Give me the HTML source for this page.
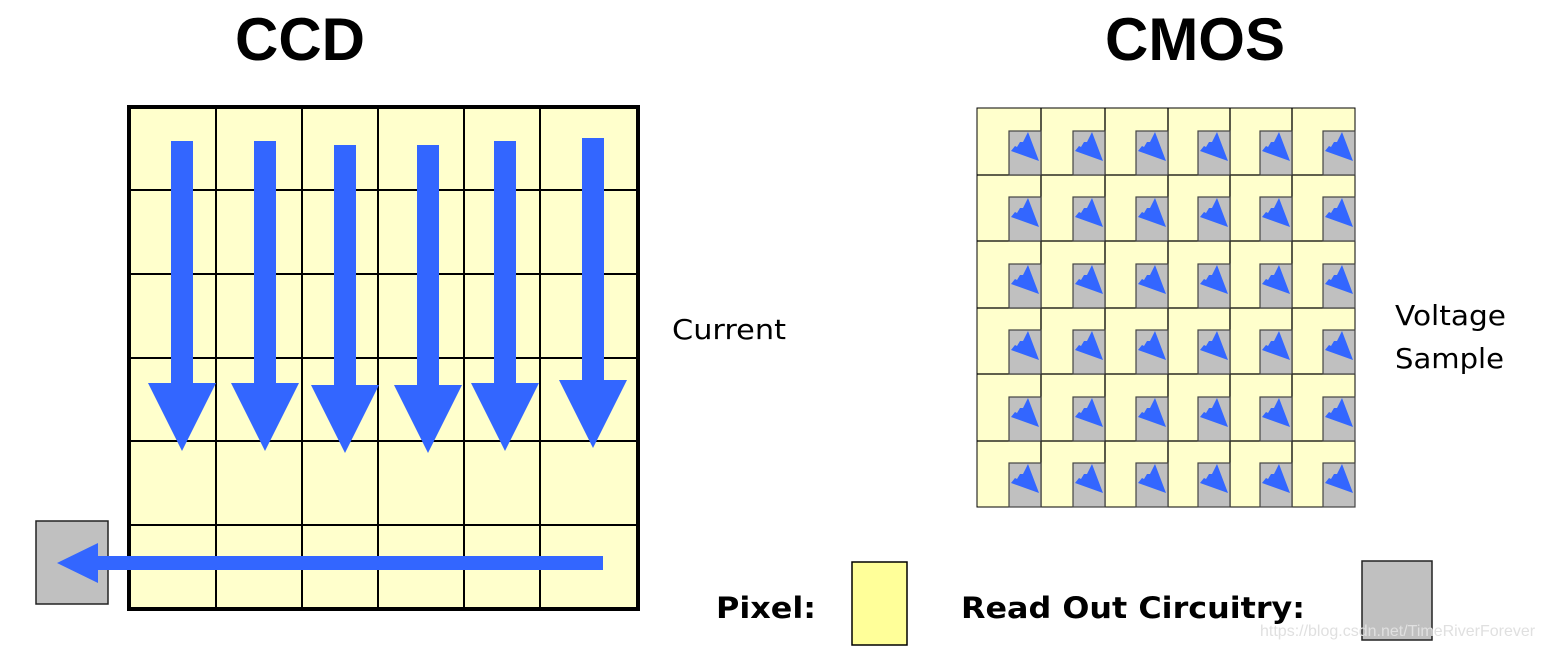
<!DOCTYPE html>
<html><head><style>body{margin:0;background:#fff}svg{display:block}</style></head><body>
<svg width="1544" height="649" xmlns="http://www.w3.org/2000/svg" xmlns:xlink="http://www.w3.org/1999/xlink" font-family="Liberation Sans, sans-serif">
<defs>
<g id="ro">
<rect x="-32" y="-44" width="32" height="44" fill="#c0c0c0" stroke="#444" stroke-width="1.2"/>
<path d="M-30 -24L-26 -29L-24 -28L-21 -33L-18 -33L-13 -43L-2 -14Z" fill="#3366ff"/>
</g>
</defs>
<text x="300" y="60" font-size="60" font-weight="bold" text-anchor="middle">CCD</text>
<text x="1195" y="60" font-size="60" font-weight="bold" text-anchor="middle">CMOS</text>
<rect x="129" y="107" width="509" height="502" fill="#ffffcc"/>
<g stroke="#000" stroke-width="2">
<line x1="216" y1="107" x2="216" y2="609"/><line x1="302" y1="107" x2="302" y2="609"/><line x1="378" y1="107" x2="378" y2="609"/><line x1="464" y1="107" x2="464" y2="609"/><line x1="540" y1="107" x2="540" y2="609"/>
<line x1="129" y1="190" x2="638" y2="190"/><line x1="129" y1="274" x2="638" y2="274"/><line x1="129" y1="358" x2="638" y2="358"/><line x1="129" y1="441" x2="638" y2="441"/><line x1="129" y1="525" x2="638" y2="525"/>
</g>
<rect x="129" y="107" width="509" height="502" fill="none" stroke="#000" stroke-width="4"/>
<g fill="#3366ff">
<path d="M171 141h22v242h23l-34 68l-34-68h23z"/>
<path d="M254 141h22v242h23l-34 68l-34-68h23z"/>
<path d="M334 145h22v240h23l-34 68l-34-68h23z"/>
<path d="M417 145h22v240h23l-34 68l-34-68h23z"/>
<path d="M494 141h22v242h23l-34 68l-34-68h23z"/>
<path d="M582 138h22v242h23l-34 68l-34-68h23z"/>
</g>
<rect x="36" y="521" width="72" height="83" fill="#c0c0c0" stroke="#222" stroke-width="1.5"/>
<path d="M603 556V570H98V583L57 563L98 543V556Z" fill="#3366ff"/>
<g font-family="DejaVu Sans, sans-serif">
<text x="672" y="339" font-size="28" textLength="114" lengthAdjust="spacingAndGlyphs">Current</text>
<text x="1395" y="325" font-size="28" textLength="111" lengthAdjust="spacingAndGlyphs">Voltage</text>
<text x="1395" y="368" font-size="28" textLength="109" lengthAdjust="spacingAndGlyphs">Sample</text>
<text x="716" y="618" font-size="29" font-weight="bold" textLength="100" lengthAdjust="spacingAndGlyphs">Pixel:</text>
<text x="961" y="618" font-size="29" font-weight="bold" textLength="344" lengthAdjust="spacingAndGlyphs">Read Out Circuitry:</text>
</g>
<rect x="977" y="108" width="378" height="399" fill="#ffffcc" stroke="#000" stroke-width="1"/>
<g stroke="#000" stroke-width="1.3" fill="none">
<line x1="1041" y1="108" x2="1041" y2="507"/><line x1="1105" y1="108" x2="1105" y2="507"/><line x1="1168" y1="108" x2="1168" y2="507"/><line x1="1230" y1="108" x2="1230" y2="507"/><line x1="1292" y1="108" x2="1292" y2="507"/>
<line x1="977" y1="175" x2="1355" y2="175"/><line x1="977" y1="241" x2="1355" y2="241"/><line x1="977" y1="308" x2="1355" y2="308"/><line x1="977" y1="374" x2="1355" y2="374"/><line x1="977" y1="441" x2="1355" y2="441"/>
</g>
<g>
<use xlink:href="#ro" x="1041" y="175"/><use xlink:href="#ro" x="1105" y="175"/><use xlink:href="#ro" x="1168" y="175"/><use xlink:href="#ro" x="1230" y="175"/><use xlink:href="#ro" x="1292" y="175"/><use xlink:href="#ro" x="1355" y="175"/>
<use xlink:href="#ro" x="1041" y="241"/><use xlink:href="#ro" x="1105" y="241"/><use xlink:href="#ro" x="1168" y="241"/><use xlink:href="#ro" x="1230" y="241"/><use xlink:href="#ro" x="1292" y="241"/><use xlink:href="#ro" x="1355" y="241"/>
<use xlink:href="#ro" x="1041" y="308"/><use xlink:href="#ro" x="1105" y="308"/><use xlink:href="#ro" x="1168" y="308"/><use xlink:href="#ro" x="1230" y="308"/><use xlink:href="#ro" x="1292" y="308"/><use xlink:href="#ro" x="1355" y="308"/>
<use xlink:href="#ro" x="1041" y="374"/><use xlink:href="#ro" x="1105" y="374"/><use xlink:href="#ro" x="1168" y="374"/><use xlink:href="#ro" x="1230" y="374"/><use xlink:href="#ro" x="1292" y="374"/><use xlink:href="#ro" x="1355" y="374"/>
<use xlink:href="#ro" x="1041" y="441"/><use xlink:href="#ro" x="1105" y="441"/><use xlink:href="#ro" x="1168" y="441"/><use xlink:href="#ro" x="1230" y="441"/><use xlink:href="#ro" x="1292" y="441"/><use xlink:href="#ro" x="1355" y="441"/>
<use xlink:href="#ro" x="1041" y="507"/><use xlink:href="#ro" x="1105" y="507"/><use xlink:href="#ro" x="1168" y="507"/><use xlink:href="#ro" x="1230" y="507"/><use xlink:href="#ro" x="1292" y="507"/><use xlink:href="#ro" x="1355" y="507"/>
</g>
<rect x="852" y="562" width="55" height="83" fill="#ffff99" stroke="#000" stroke-width="1.5"/>
<rect x="1362" y="561" width="70" height="79" fill="#c0c0c0" stroke="#222" stroke-width="1.5"/>
<text x="1260" y="636" font-size="16" fill="#e0e0e0">https://blog.csdn.net/TimeRiverForever</text>
</svg>
</body></html>
